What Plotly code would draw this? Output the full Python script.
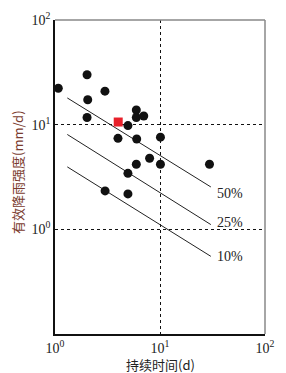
import numpy as np
import plotly.graph_objects as go

# Observed events: duration (d) vs effective rainfall intensity (mm/d)
dur = [1.075, 2.02, 2.05, 2.99, 2.02, 4.95, 5.95, 5.95, 7.0, 3.98, 6.0, 10.1, 7.96, 5.95, 10.1, 4.95, 3.0, 4.95, 29.6]
inten = [22.3, 30.0, 17.3, 20.9, 11.7, 9.8, 13.8, 11.7, 12.1, 7.4, 7.3, 7.6, 4.78, 4.19, 4.19, 3.43, 2.33, 2.18, 4.19]

# Highlighted event
red_dur = [4.0]
red_int = [10.6]

# Threshold lines (probability)
line_x = [1.31, 30.5]
line50 = [18.0, 2.54]
line25 = [8.06, 1.11]
line10 = [3.95, 0.552]
line_labels = ["50%", "25%", "10%"]
label_y = [2.21, 1.17, 0.55]
label_x = 33.4

tick_vals = [1, 10, 100]
tick_text = ["10<sup>0</sup>", "10<sup>1</sup>", "10<sup>2</sup>"]
ytick_vals = [0.1, 1, 10, 100]
ytick_text = ["", "10<sup>0</sup>", "10<sup>1</sup>", "10<sup>2</sup>"]

fig = go.Figure()
for ly in [line50, line25, line10]:
    fig.add_trace(go.Scatter(x=line_x, y=ly, mode="lines",
                             line=dict(color="#222222", width=1), showlegend=False))
fig.add_trace(go.Scatter(x=dur, y=inten, mode="markers",
                         marker=dict(color="#111111", size=9, symbol="circle"), showlegend=False))
fig.add_trace(go.Scatter(x=red_dur, y=red_int, mode="markers",
                         marker=dict(color="#e8202a", size=9, symbol="square"), showlegend=False))

for lab, yv in zip(line_labels, label_y):
    fig.add_annotation(x=np.log10(label_x), y=np.log10(yv), text=lab, showarrow=False,
                       xanchor="left", yanchor="middle",
                       font=dict(family="Liberation Serif", size=14, color="#222222"))

serif = dict(family="Liberation Serif", size=14, color="#222222")
fig.update_xaxes(type="log", range=[0, 2], tickvals=tick_vals, ticktext=tick_text,
                 showline=True, linecolor="#111111", linewidth=1.5,
                 showgrid=True, gridcolor="#111111", gridwidth=1, griddash="dot",
                 zeroline=False, ticks="", tickfont=serif, automargin=False)
fig.update_yaxes(type="log", range=[-1, 2], tickvals=ytick_vals, ticktext=ytick_text,
                 showline=True, linecolor="#111111", linewidth=1.5,
                 showgrid=True, gridcolor="#111111", gridwidth=1, griddash="dot",
                 zeroline=False, ticks="", tickfont=serif, automargin=False)

# gray top and right borders
fig.add_shape(type="line", xref="paper", yref="paper", x0=0, x1=1, y0=1, y1=1,
              line=dict(color="#888888", width=1.5))
fig.add_shape(type="line", xref="paper", yref="paper", x0=1, x1=1, y0=0, y1=1,
              line=dict(color="#888888", width=1.5))

cjk = "Noto Sans CJK SC"
fig.add_annotation(xref="paper", yref="paper", x=0.5, y=-0.096, text="持续时间(d)",
                   showarrow=False, xanchor="center", yanchor="middle",
                   font=dict(family=cjk, size=13, color="#222222"))
fig.add_annotation(xref="paper", yref="paper", x=-0.176, y=0.516, text="有效降雨强度(mm/d)",
                   showarrow=False, textangle=-90, xanchor="center", yanchor="middle",
                   font=dict(family=cjk, size=13, color="#7a3b2e"))

# page body has an 8px default margin, so the figure is shifted and sized to compensate
fig.update_layout(width=278, height=365, margin=dict(l=47, r=21, t=12, b=39),
                  plot_bgcolor="white", paper_bgcolor="white")
fig.write_html("out.html")
